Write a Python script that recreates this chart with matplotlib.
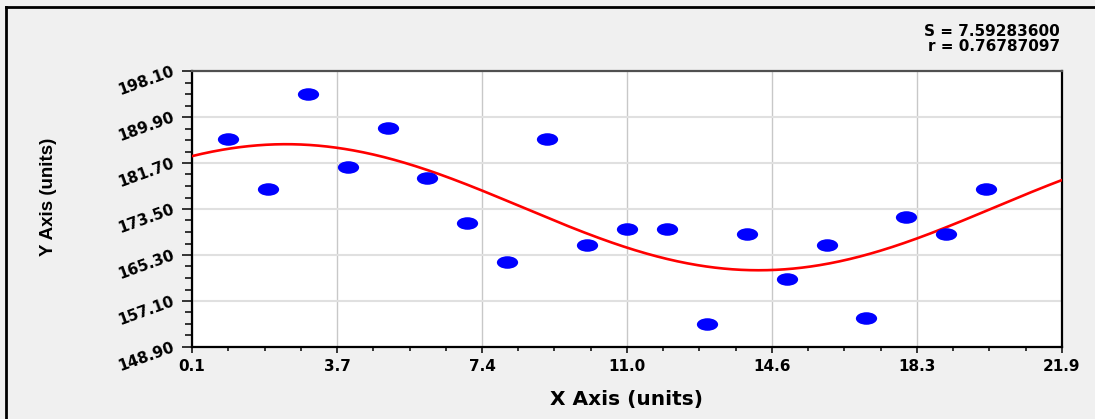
import numpy as np
import matplotlib
matplotlib.use("Agg")
import matplotlib.pyplot as plt
from matplotlib.path import Path
from matplotlib.transforms import Affine2D
from matplotlib.ticker import AutoMinorLocator, FixedLocator
from matplotlib.lines import Line2D

# ---- data ----
x_data = [1, 2, 3, 4, 5, 6, 7, 8, 9, 10, 11, 12, 13, 14, 15, 16, 17, 18, 19, 20]
y_data = [186, 177, 194, 181, 188, 179, 171, 164, 186, 167,
          170, 170, 153, 169, 161, 167, 154, 172, 169, 177]
x_range = (0.1, 21.9)
y_range = (148.9, 198.1)
stat_s = "S = 7.59283600"
stat_r = "r = 0.76787097"
x_label = "X Axis (units)"
y_label = "Y Axis (units)"

plt.rcParams["font.family"] = ["DejaVu Sans"]
plt.rcParams["font.weight"] = "bold"

W, H = 1095, 419
fig = plt.figure(figsize=(W / 100, H / 100), dpi=100, facecolor="#f0f0f0")
ax = fig.add_axes([192 / W, 72 / H, 870 / W, 276 / H])
ax.set_facecolor("white")

# ---- sinusoidal least-squares fit of the data ----
xd = np.array(x_data, float)
yd = np.array(y_data, float)
best = None
for w in np.linspace(0.12, 0.45, 3301):
    A = np.column_stack([np.ones_like(xd), np.sin(w * xd), np.cos(w * xd)])
    coef = np.linalg.lstsq(A, yd, rcond=None)[0]
    sse = float(np.sum((A @ coef - yd) ** 2))
    if best is None or sse < best[0]:
        best = (sse, w, coef)
_, wb, cb = best
xc = np.linspace(x_range[0], x_range[1], 600)
yc = cb[0] + cb[1] * np.sin(wb * xc) + cb[2] * np.cos(wb * xc)
ax.plot(xc, yc, color="#ff0000", lw=1.9, zorder=3)

# ---- scatter points as horizontal ellipses ----
ell = Path.unit_circle().transformed(Affine2D().scale(1.0, 0.59))
ax.plot(xd, yd, ls="none", marker=ell, ms=15.3, mfc="#0000ff", mec="none",
        zorder=4)

ax.set_xlim(*x_range)
ax.set_ylim(*y_range)
xt = np.linspace(x_range[0], x_range[1], 7)
yt = np.linspace(y_range[0], y_range[1], 7)
ax.xaxis.set_major_locator(FixedLocator(xt))
ax.yaxis.set_major_locator(FixedLocator(yt))
ax.set_xticklabels([f"{v:.1f}" for v in xt])
ax.set_yticklabels([f"{v:.2f}" for v in yt])
ax.xaxis.set_minor_locator(AutoMinorLocator(4))
ax.yaxis.set_minor_locator(AutoMinorLocator(4))

ax.grid(axis="y", which="major", color="#e0e0e0", lw=1.5, zorder=0)
ax.grid(axis="x", which="major", color="#c8c8c8", lw=1.0, zorder=0)
ax.set_axisbelow(True)

for s in ["left", "bottom", "right"]:
    ax.spines[s].set_color("black")
    ax.spines[s].set_linewidth(1.6)
ax.spines["top"].set_color("#505050")
ax.spines["top"].set_linewidth(1.6)

ax.tick_params(axis="y", which="major", length=7.2, width=1.1, pad=6.0,
               labelsize=11)
ax.tick_params(axis="y", which="minor", length=4.7, width=1.1)
ax.tick_params(axis="x", which="major", length=4.3, width=1.1, pad=4.0,
               labelsize=11)
ax.tick_params(axis="x", which="minor", length=2.6, width=1.1)

for lbl in ax.get_yticklabels():
    lbl.set_rotation(20)
    lbl.set_rotation_mode("anchor")
    lbl.set_ha("right")
    lbl.set_va("center")
    lbl.set_fontweight("bold")
for lbl in ax.get_xticklabels():
    lbl.set_fontweight("bold")

ax.set_xlabel(x_label, fontsize=14.5, fontweight="bold", va="center")
ax.xaxis.set_label_coords(0.5, -0.192)
ax.set_ylabel(y_label, fontsize=13.5, fontweight="bold", va="center",
              family=["Liberation Sans", "DejaVu Sans"])
ax.yaxis.set_label_coords(-0.1644, 0.543)

fig.text(1060 / W, 1 - 32 / H, stat_s, ha="right", va="center",
         fontsize=11, fontweight="bold")
fig.text(1060 / W, 1 - 46 / H, stat_r, ha="right", va="center",
         fontsize=11, fontweight="bold")

# outer frame (top and left edges visible)
fig.add_artist(Line2D([6 / W, 6 / W], [0, 1 - 7 / H],
                      transform=fig.transFigure, color="black", lw=2.0))
fig.add_artist(Line2D([6 / W, 1], [1 - 7.5 / H, 1 - 7.5 / H],
                      transform=fig.transFigure, color="black", lw=2.0))

fig.savefig("out.png", dpi=100, facecolor=fig.get_facecolor())
